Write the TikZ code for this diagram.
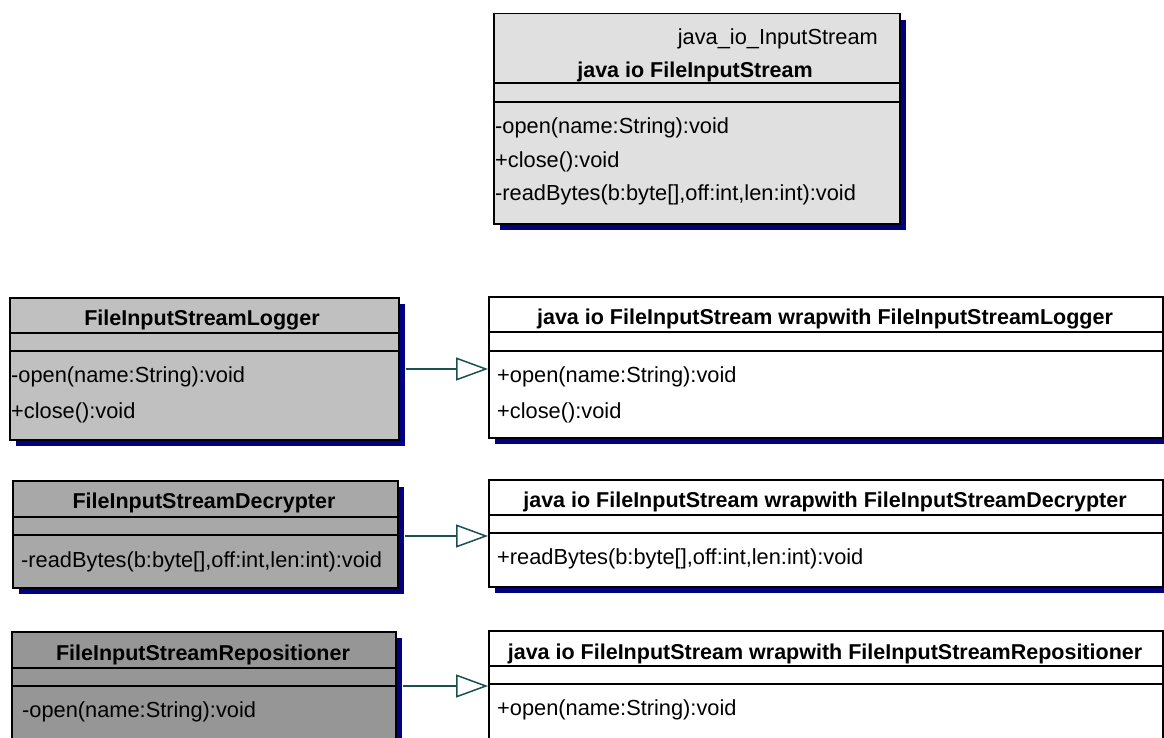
\documentclass[tikz,border=0pt]{standalone}
\usepackage{fontspec}
\setmainfont{Liberation Sans}
\usetikzlibrary{arrows.meta,shadows}

\definecolor{shade}{RGB}{0,0,128}
\definecolor{linkcol}{RGB}{25,80,80}
\definecolor{fillA}{RGB}{224,224,224}
\definecolor{fillB}{RGB}{192,192,192}
\definecolor{fillC}{RGB}{168,168,168}
\definecolor{fillD}{RGB}{150,150,150}

\tikzset{
  classbox/.style={draw=black, line width=1.5pt, rectangle, anchor=north west, inner sep=0pt,
    drop shadow={shadow xshift=6pt, shadow yshift=-6pt, fill=shade, opacity=1}},
  sepline/.style={draw=black, line width=1.5pt},
  txt/.style={inner sep=0pt, font=\fontsize{21.8}{24}\selectfont, text height=15.5pt, text depth=4.5pt},
  title/.style={txt, font=\fontsize{21.5}{24}\selectfont\bfseries},
  op/.style={txt, anchor=west},
  gen/.style={draw=linkcol, line width=1.5pt, shorten <=6pt,
    -{Triangle[open, length=32pt, width=23pt, line width=1.5pt]}},
}

\begin{document}
\begin{tikzpicture}[x=1pt, y=-1pt]
\useasboundingbox (0,0) rectangle (1164,738);

% base class
\node[classbox, fill=fillA, minimum width=406pt, minimum height=210pt] (base) at (493,13) {};
\draw[sepline] (base.west |- 0,83) -- (base.east |- 0,83);
\draw[sepline] (base.west |- 0,102) -- (base.east |- 0,102);
\node[txt, anchor=east] (baseSt) at (878,39) {java\_io\_InputStream};
\node[title] (baseT) at (695,72) {java io FileInputStream};
\node[op] (baseO1) at (495,128) {-open(name:String):void};
\node[op] (baseO2) at (495,162) {+close():void};
\node[op] (baseO3) at (495,195) {-readBytes(b:byte[],off:int,len:int):void};

% logger
\node[classbox, fill=fillB, minimum width=389pt, minimum height=142pt] (logL) at (9,297) {};
\draw[sepline] (logL.west |- 0,333) -- (logL.east |- 0,333);
\draw[sepline] (logL.west |- 0,351) -- (logL.east |- 0,351);
\node[title] (logLT) at (202,320) {FileInputStreamLogger};
\node[op] (logLO1) at (11,377) {-open(name:String):void};
\node[op] (logLO2) at (11,413) {+close():void};

\node[classbox, fill=white, minimum width=674pt, minimum height=141pt] (logR) at (488,296) {};
\draw[sepline] (logR.west |- 0,332) -- (logR.east |- 0,332);
\draw[sepline] (logR.west |- 0,351) -- (logR.east |- 0,351);
\node[title] (logRT) at (825,319) {java io FileInputStream wrapwith FileInputStreamLogger};
\node[op] (logRO1) at (497,377) {+open(name:String):void};
\node[op] (logRO2) at (497,413) {+close():void};

% decrypter
\node[classbox, fill=fillC, minimum width=385pt, minimum height=107pt] (decL) at (12,480) {};
\draw[sepline] (decL.west |- 0,517) -- (decL.east |- 0,517);
\draw[sepline] (decL.west |- 0,535) -- (decL.east |- 0,535);
\node[title] (decLT) at (204,503) {FileInputStreamDecrypter};
\node[op] (decLO1) at (21,562) {-readBytes(b:byte[],off:int,len:int):void};

\node[classbox, fill=white, minimum width=674pt, minimum height=107pt] (decR) at (488,479) {};
\draw[sepline] (decR.west |- 0,515) -- (decR.east |- 0,515);
\draw[sepline] (decR.west |- 0,533) -- (decR.east |- 0,533);
\node[title] (decRT) at (825,502) {java io FileInputStream wrapwith FileInputStreamDecrypter};
\node[op] (decRO1) at (497,559) {+readBytes(b:byte[],off:int,len:int):void};

% repositioner
\node[classbox, fill=fillD, minimum width=384pt, minimum height=130pt] (repL) at (11,631) {};
\draw[sepline] (repL.west |- 0,668) -- (repL.east |- 0,668);
\draw[sepline] (repL.west |- 0,686) -- (repL.east |- 0,686);
\node[title] (repLT) at (203,655) {FileInputStreamRepositioner};
\node[op] (repLO1) at (22,712) {-open(name:String):void};

\node[classbox, fill=white, minimum width=674pt, minimum height=130pt] (repR) at (488,630) {};
\draw[sepline] (repR.west |- 0,666) -- (repR.east |- 0,666);
\draw[sepline] (repR.west |- 0,684) -- (repR.east |- 0,684);
\node[title] (repRT) at (825,654) {java io FileInputStream wrapwith FileInputStreamRepositioner};
\node[op] (repRO1) at (497,710) {+open(name:String):void};

% generalisations
\draw[gen] (logL.east |- 0,369) -- (logR.west |- 0,369);
\draw[gen] (decL.east |- 0,536) -- (decR.west |- 0,536);
\draw[gen] (repL.east |- 0,686) -- (repR.west |- 0,686);
\end{tikzpicture}
\end{document}
